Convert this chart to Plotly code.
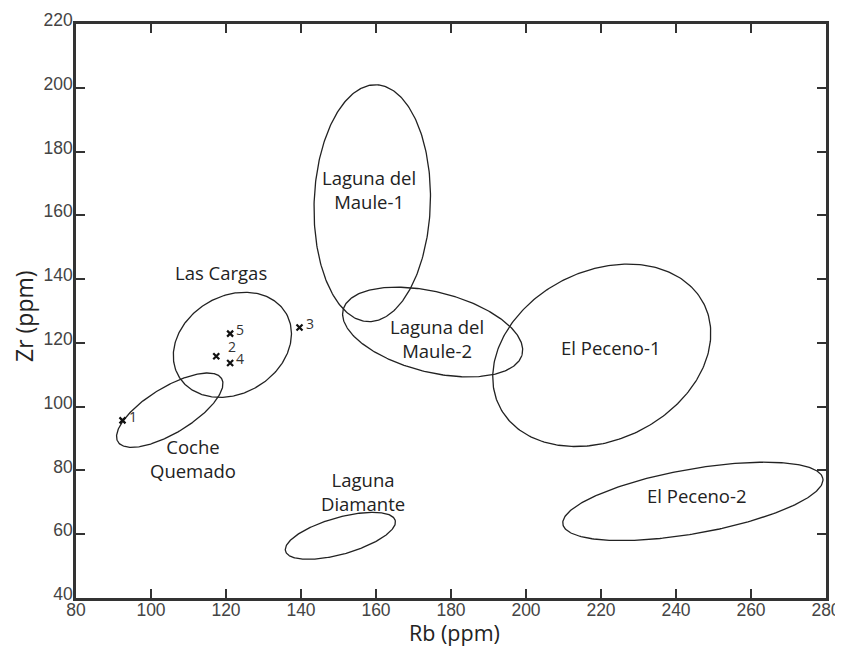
import numpy as np
import plotly.graph_objects as go

# ---- data ----
groups = ["Laguna del Maule-1", "Laguna del Maule-2", "El Peceno-1", "El Peceno-2",
          "Laguna Diamante", "Coche Quemado", "Las Cargas"]
group_labels = ["Laguna del<br>Maule-1", "Laguna del<br>Maule-2", "El Peceno-1", "El Peceno-2",
                "Laguna<br>Diamante", "Coche<br>Quemado", "Las Cargas"]
center_rb = [159.0, 175.1, 220.2, 244.5, 150.5, 105.0, 121.7]
center_zr = [163.8, 123.4, 116.1, 70.3, 59.5, 98.9, 119.4]
major_rb = [31.6, 24.6, 30.5, 35.2, 15.2, 16.2, 16.6]
minor_rb = [15.5, 10.7, 22.5, 8.6, 4.9, 6.1, 13.0]
tilt_deg = [88.0, -14.0, 26.6, 10.0, 15.7, 31.4, 30.4]
label_rb = [158.2, 176.3, 222.6, 245.7, 156.6, 111.1, 118.7]
label_zr = [168.1, 121.3, 118.7, 72.2, 73.5, 83.8, 142.2]

sample_ids = ["1", "2", "3", "4", "5"]
sample_rb = [92.4, 117.4, 139.6, 121.1, 121.1]
sample_zr = [95.7, 115.8, 124.8, 113.7, 122.9]

x_range = [80, 280]
y_range = [40, 220]
x_ticks = [80, 100, 120, 140, 160, 180, 200, 220, 240, 260, 280]
y_ticks = [40, 60, 80, 100, 120, 140, 160, 180, 200, 220]

# ---- layout geometry (page has an 8px body offset) ----
W, H = 835, 639
ML, MR, MT, MB = 68, 17, 16, 49
plot_w = W - ML - MR
plot_h = H - MT - MB
k = ((y_range[1] - y_range[0]) / plot_h) / ((x_range[1] - x_range[0]) / plot_w)

fig = go.Figure()
t = np.linspace(0, 2 * np.pi, 300)
for cx, cy, a, b, th in zip(center_rb, center_zr, major_rb, minor_rb, tilt_deg):
    r = np.deg2rad(th)
    u = a * np.cos(t) * np.cos(r) - b * np.sin(t) * np.sin(r)
    v = a * np.cos(t) * np.sin(r) + b * np.sin(t) * np.cos(r)
    fig.add_trace(go.Scatter(x=cx + u, y=cy + v * k, mode="lines",
                             line=dict(color="#222222", width=1.3),
                             hoverinfo="skip", showlegend=False))

fig.add_trace(go.Scatter(x=sample_rb, y=sample_zr, mode="markers",
                         marker=dict(symbol="x-thin", size=6,
                                     line=dict(color="#111111", width=2.2)),
                         showlegend=False))

text_font = "Open Sans, Lato, sans-serif"
for txt, x, y in zip(group_labels, label_rb, label_zr):
    fig.add_annotation(x=x, y=y, text=txt, showarrow=False,
                       font=dict(family=text_font, size=18.5, color="#222222"))

for sid, x, y in zip(sample_ids, sample_rb, sample_zr):
    if sid == "2":
        xs, ys = 16, 10
    else:
        xs, ys = 10, 4
    fig.add_annotation(x=x, y=y, text=sid, showarrow=False, xshift=xs, yshift=ys,
                       font=dict(family=text_font, size=14, color="#333333"))

# axis titles
fig.add_annotation(x=0.5, y=0, xref="paper", yref="paper", yshift=-34, xshift=3,
                   text="Rb (ppm)", showarrow=False, yanchor="middle",
                   font=dict(family=text_font, size=21.5, color="#222222"))
fig.add_annotation(x=0, y=0.5, xref="paper", yref="paper", xshift=-52, yshift=-5,
                   text="Zr (ppm)", showarrow=False, textangle=-90, xanchor="center",
                   font=dict(family=text_font, size=23, color="#222222"))

axis_common = dict(showgrid=False, zeroline=False, showline=True, linecolor="#333333",
                   linewidth=2.5, mirror="allticks", ticks="inside", ticklen=9,
                   tickwidth=1.5, tickcolor="#333333", automargin=False,
                   tickfont=dict(family="Liberation Sans, Arial, sans-serif", size=17.5,
                                 color="#444444"))

fig.update_xaxes(range=x_range, tickvals=x_ticks, ticklabelstandoff=-6, **axis_common)
fig.update_yaxes(range=y_range, tickvals=y_ticks, ticklabelstandoff=-3,
                 ticklabelshift=-4, **axis_common)

fig.update_layout(width=W, height=H, margin=dict(l=ML, r=MR, t=MT, b=MB, autoexpand=False),
                  plot_bgcolor="white", paper_bgcolor="white")

fig.write_html("out.html")
